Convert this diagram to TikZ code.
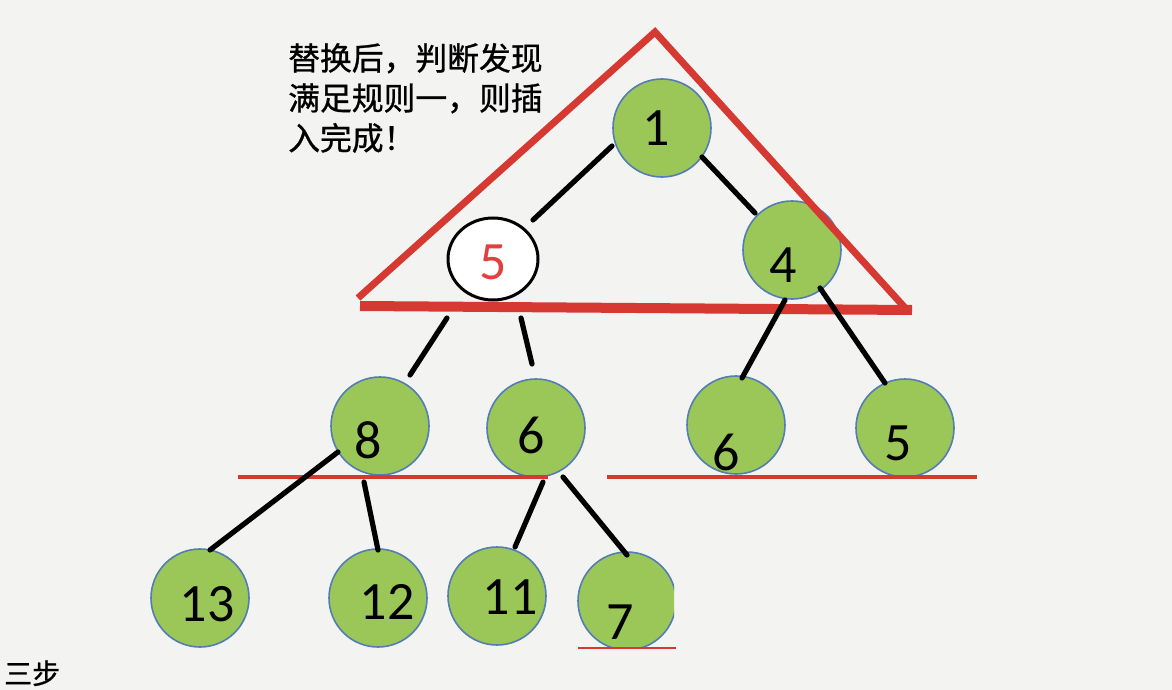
\documentclass[tikz,border=0pt]{standalone}
\usepackage{fontspec}
\usetikzlibrary{shapes.geometric}
\setmainfont{Carlito}
\newfontfamily\cjk[FakeBold=0.9]{Noto Sans CJK SC}
\definecolor{bg}{RGB}{243,244,242}
\definecolor{leaf}{RGB}{155,199,89}
\definecolor{rim}{RGB}{84,125,180}
\definecolor{redmk}{RGB}{214,56,50}
\definecolor{redtxt}{RGB}{226,64,64}
\begin{document}
\begin{tikzpicture}[x=1pt,y=-1pt,
  ball/.style={circle,fill=leaf,draw=rim,line width=1.6pt,minimum size=98pt,inner sep=0pt},
  num/.style={font=\fontsize{54}{54}\selectfont,inner sep=0pt},
  edge/.style={line width=5.2pt,color=black,line cap=round},
  redline/.style={color=redmk,line width=4pt},
  note/.style={font=\cjk\fontsize{31.8}{40}\selectfont,anchor=base west,inner sep=0pt,text=black}]
\fill[bg] (0,0) rectangle (1172,690);
\useasboundingbox (0,0) rectangle (1172,690);

% circles
\node[ball] (b1) at (662,128) {};
\node[ball] (b4) at (792,250) {};
\node[ellipse,draw=black,line width=3pt,fill=white,minimum width=90pt,minimum height=82pt,inner sep=0pt] (e5) at (493,259) {};
\node[ball] (b8) at (380,426) {};
\node[ball] (b6a) at (536,428) {};
\node[ball] (b6b) at (736,425) {};
\node[ball] (b5) at (905,428) {};
\node[ball] (b13) at (200,598) {};
\node[ball] (b12) at (378,598) {};
\node[ball] (b11) at (497,596) {};
\begin{scope}
  \clip (560,540) rectangle (674,648);
  \node[ball] (b7) at (627,601) {};
\end{scope}

% red lines
\draw[redline] (238,477) -- (548,477);
\draw[redline] (607,477) -- (977,477);
\draw[color=redmk,line width=2pt] (578,648) -- (676,648);

% numbers
\node[num] (t1) at (656,128) {1};
\node[num] (t4) at (783,265) {4};
\node[num,text=redtxt] (t5r) at (493,262) {5};
\node[num] (t8) at (368,440) {8};
\node[num] (t6a) at (531,435) {6};
\node[num] (t6b) at (726,452) {6};
\node[num] (t5) at (898,443) {5};
\node[num] (t13) at (207,604) {13};
\node[num] (t12) at (387,602) {12};
\node[num] (t11) at (510,597) {11};
\node[num] (t7) at (620,622) {7};

% red triangle
\coordinate (apex) at (655,32);
\coordinate (tl) at (358,298);
\coordinate (tr) at (907,310);
\draw[color=redmk,line width=7pt,line join=miter] (tl) -- (apex) -- (tr);
\draw[color=redmk,line width=10pt] (360,306) -- (912,310);

% connectors
\coordinate (c1a) at (533,220); \coordinate (c1b) at (612,146);
\coordinate (c2a) at (702,157); \coordinate (c2b) at (755,213);
\coordinate (c3a) at (785,300); \coordinate (c3b) at (742,378);
\coordinate (c4a) at (820,288); \coordinate (c4b) at (885,383);
\coordinate (c5a) at (447,318); \coordinate (c5b) at (410,375);
\coordinate (c6a) at (521,318); \coordinate (c6b) at (532,364);
\coordinate (c7a) at (338,452); \coordinate (c7b) at (210,550);
\coordinate (c8a) at (364,482); \coordinate (c8b) at (378,550);
\coordinate (c9a) at (543,482); \coordinate (c9b) at (515,547);
\coordinate (c10a) at (563,477); \coordinate (c10b) at (627,555);
\foreach \s in {1,...,10} \draw[edge] (c\s a) -- (c\s b);

% notes
\node[note] (n1) at (288,70) {替换后，判断发现};
\node[note] (n2) at (288,110) {满足规则一，则插};
\node[note] (n3) at (288,150) {入完成！};
\node[note,font=\cjk\fontsize{28}{34}\selectfont] (n4) at (4,684) {三步};
\end{tikzpicture}
\end{document}
